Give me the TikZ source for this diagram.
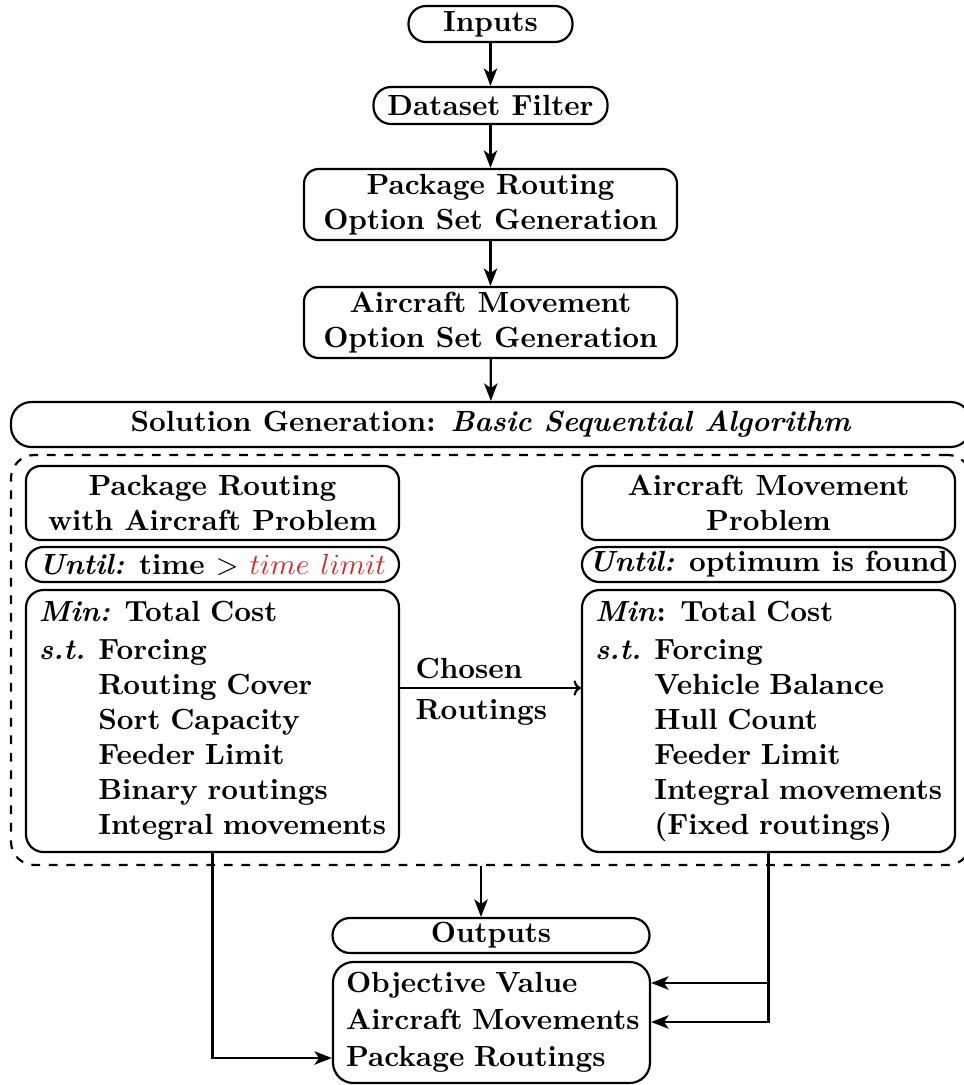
\documentclass[tikz,border=0pt]{standalone}
\usetikzlibrary{arrows.meta}
\newcommand{\pxu}{0.343pt}
\definecolor{limitred}{RGB}{214,39,40}
\tikzset{
  base/.style={draw, line width=0.75pt, font=\bfseries, inner sep=0pt},
  pill/.style={base, rounded corners=6pt, align=center},
  roundbox/.style={base, rounded corners=5pt, align=center},
  listbox/.style={base, rounded corners=6pt, align=left, inner xsep=13*\pxu, text width=(#1-26)*\pxu},
  dashbox/.style={draw, dashed, line width=0.75pt, rounded corners=8pt},
  arr/.style={line width=0.75pt, -{Stealth[length=6pt,width=4.6pt,inset=1.6pt]}},
  thinarr/.style={line width=0.75pt, -{To[length=2.5pt]}},
  lbl/.style={font=\bfseries, inner sep=0pt, anchor=base west},
}
\begin{document}
\begin{tikzpicture}[x=\pxu, y=-\pxu]
\useasboundingbox (0,0) rectangle (964,1085);

% top chain
\node[pill, minimum width=164*\pxu, minimum height=36*\pxu] (in) at (490.5,24) {Inputs};
\node[pill, minimum width=234*\pxu, minimum height=37*\pxu] (df) at (490.5,105.5) {Dataset Filter};
\node[roundbox, minimum width=373*\pxu, minimum height=71*\pxu] (pr) at (490.5,204.5) {Package Routing\\Option Set Generation};
\node[roundbox, minimum width=373*\pxu, minimum height=71*\pxu] (am) at (490.5,322.5) {Aircraft Movement\\Option Set Generation};
\node[roundbox, rounded corners=7pt, minimum width=960*\pxu, minimum height=45*\pxu] (sg) at (491,424.5) {Solution Generation: \textit{Basic Sequential Algorithm}};

% dashed container
\node[dashbox, minimum width=960*\pxu, minimum height=410*\pxu] (db) at (491,660) {};

% left column
\node[roundbox, minimum width=373*\pxu, minimum height=74*\pxu] (lt) at (212.5,503) {Package Routing\\with Aircraft Problem};
\node[pill, minimum width=373*\pxu, minimum height=35*\pxu] (lu) at (212.5,564.5) {\textit{Until:} time $>$ \textcolor{limitred}{$time\ limit$}};
\node[listbox=373, minimum height=262*\pxu] (lc) at (212.5,721) {%
\begin{tabular}{@{}l@{\hspace{4.5pt}}l@{}}
\multicolumn{2}{@{}l@{}}{\textit{Min:} Total Cost}\\[1.2pt]
\textit{s.t.} & Forcing\\
 & Routing Cover\\
 & Sort Capacity\\
 & Feeder Limit\\
 & Binary routings\\
 & Integral movements
\end{tabular}};

% right column
\node[roundbox, minimum width=373*\pxu, minimum height=74*\pxu] (rt) at (768.5,503) {Aircraft Movement\\Problem};
\node[pill, minimum width=373*\pxu, minimum height=35*\pxu] (ru) at (768.5,564.5) {\textit{Until:} optimum is found};
\node[listbox=373, minimum height=262*\pxu] (rc) at (768.5,721) {%
\begin{tabular}{@{}l@{\hspace{4.5pt}}l@{}}
\multicolumn{2}{@{}l@{}}{\textit{Min}: Total Cost}\\[1.2pt]
\textit{s.t.} & Forcing\\
 & Vehicle Balance\\
 & Hull Count\\
 & Feeder Limit\\
 & Integral movements\\
 & (Fixed routings)
\end{tabular}};

% chosen routings
\coordinate (ch) at (490,688);
\draw[thinarr] (lc.east |- ch) -- (rc.west |- ch);
\node[lbl] (chosen) at (415,678) {Chosen};
\node[lbl] (routings) at (415,719) {Routings};

% outputs
\node[pill, minimum width=317*\pxu, minimum height=35*\pxu] (ou) at (491,935.5) {Outputs};
\node[listbox=317, minimum height=121*\pxu, rounded corners=7pt] (oc) at (491.5,1022.5) {%
\begin{tabular}{@{}l@{}}
Objective Value\\[0.8pt]
Aircraft Movements\\[0.8pt]
Package Routings
\end{tabular}};

% connectors
\draw[arr] (in) -- (df);
\draw[arr] (df) -- (pr);
\draw[arr] (pr) -- (am);
\draw[arr] (am) -- (sg);

\coordinate (ox) at (481,900);
\draw[arr] (db.south -| ox) -- (ou.north -| ox);

\coordinate (lrow) at (300,1058);
\draw[arr] (lc.south) |- (oc.west |- lrow);

\coordinate (r1) at (700,983);
\coordinate (r2) at (700,1022);
\draw[arr] (rc.south) |- (oc.east |- r2);
\draw[arr] (rc.south |- r1) -- (oc.east |- r1);
\end{tikzpicture}
\end{document}
